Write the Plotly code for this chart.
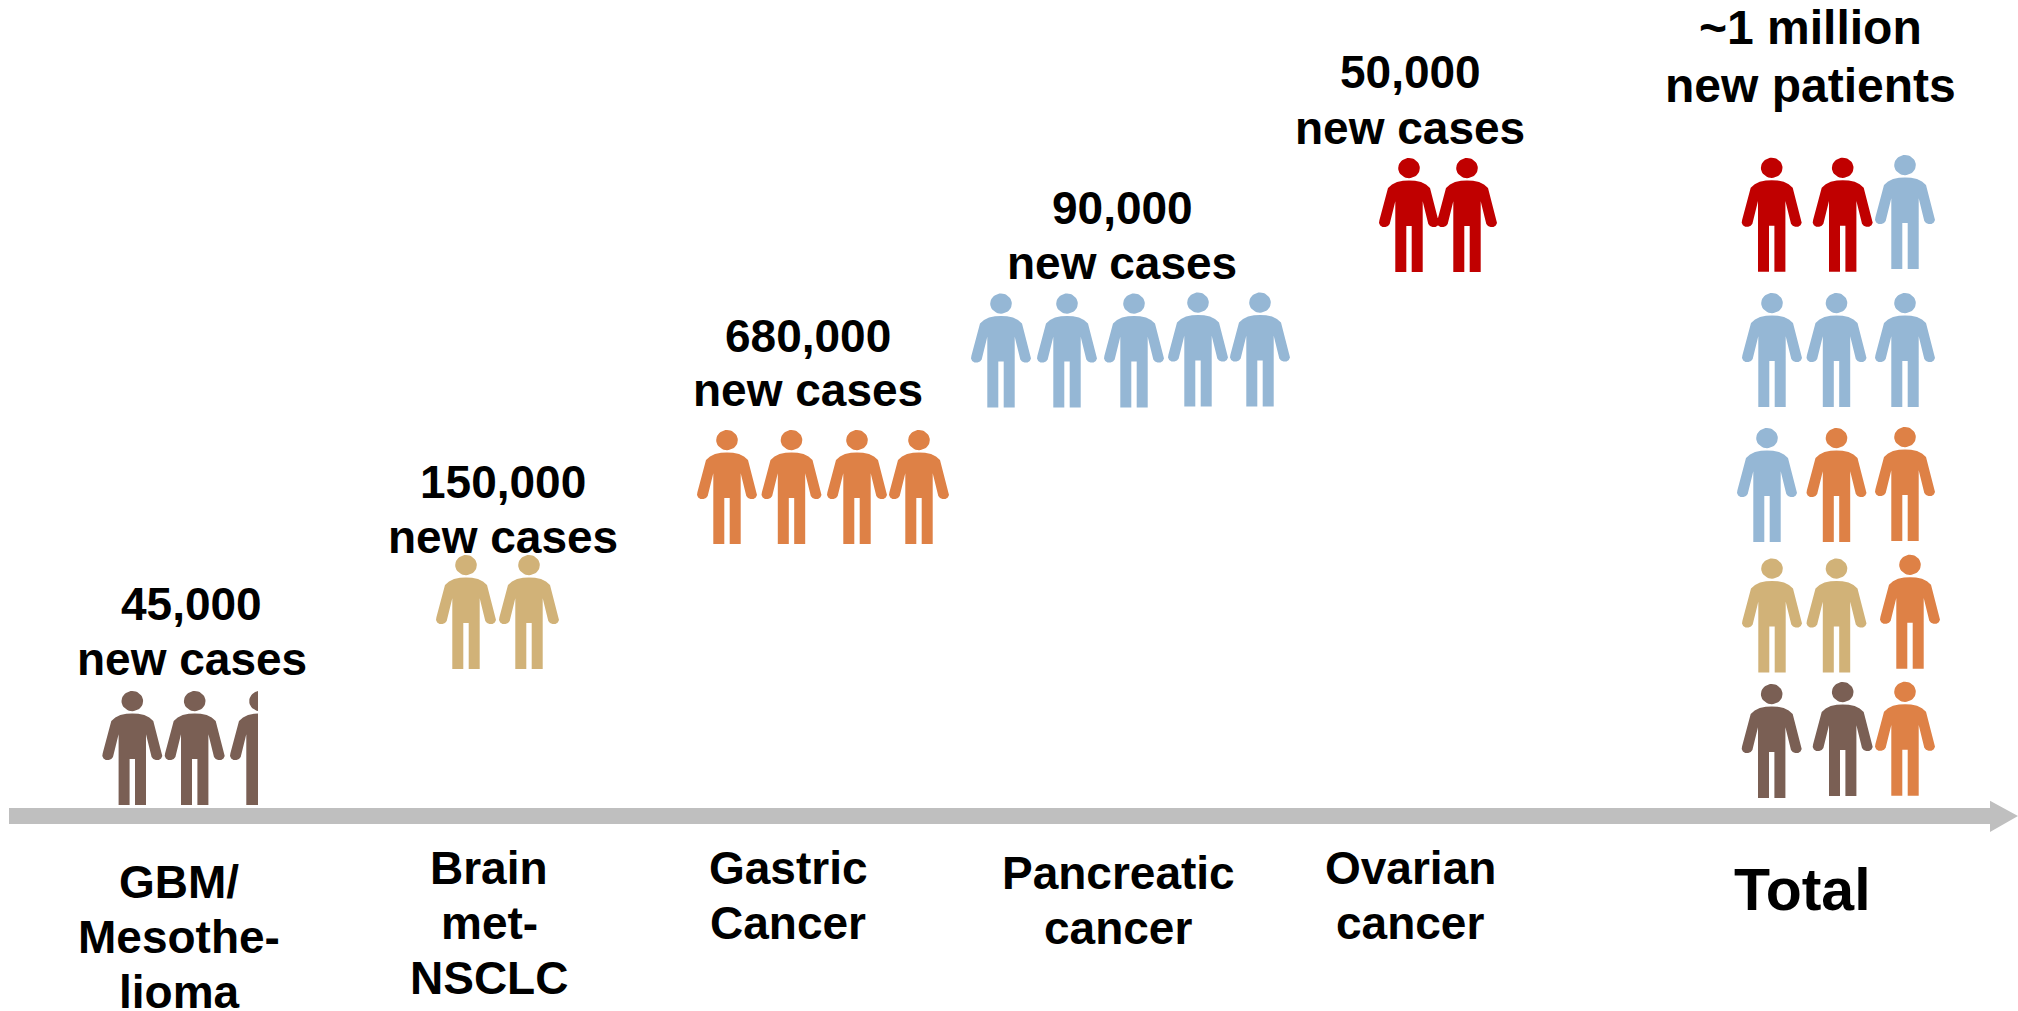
import numpy as np
import plotly.graph_objects as go

# ---------- data ----------
categories = ["GBM/\nMesothe-\nlioma", "Brain\nmet-\nNSCLC", "Gastric\nCancer", "Pancreatic\ncancer", "Ovarian\ncancer"]
new_cases = ["45,000", "150,000", "680,000", "90,000", "50,000"]
icon_counts = [2.5, 2, 4, 5, 2]
total_name = "Total"
total_label = ["~1 million", "new patients"]
case_suffix = "new cases"
# which category each icon of the Total column belongs to (top row first)
total_grid = [
    [4, 4, 3],
    [3, 3, 3],
    [3, 2, 2],
    [1, 1, 2],
    [0, 0, 2],
]

# ---------- styles / placement ----------
colors = ["#7A5F54", "#D1B278", "#DE8146", "#95B7D5", "#C00000"]
AXIS_GRAY = "#BFBFBF"
W, H = 2018, 1011
FONT = "Liberation Sans, Arial, sans-serif"
FS = 46
FS_HEAD = 48
FS_TOTAL = 59

icon_x = [
    [132.3, 194.7, 260.0],
    [466, 529],
    [727, 791.5, 857, 919],
    [1001, 1067, 1134, 1198, 1260],
    [1409, 1467],
]
icon_top = [691, 555, 430, [293.5, 293.5, 293.5, 292.5, 292.5], 158]
total_x = [
    [1771.7, 1842.7, 1905],
    [1772, 1836.5, 1905],
    [1767, 1836.5, 1905],
    [1772, 1836.5, 1910],
    [1771.7, 1842.7, 1905],
]
total_top = [
    [157.7, 157.7, 155],
    [293, 293, 293],
    [428, 428, 427],
    [558.5, 558.5, 554.7],
    [684, 682, 681.7],
]
case_pos = [(191.5, 604, 659), (503, 481.6, 537), (808, 336, 390), (1122, 207.5, 263), (1410, 72, 128)]
cat_pos = [(179, 882), (489, 868), (788, 868), (1118, 873), (1410, 868)]
CAT_STEP = 55

# person glyph: right half outline relative to centre x / head top
half = [(0, 22.6), (6, 22.7), (12, 24), (17, 26.6), (21, 30), (29.6, 62.3), (30, 65), (28.8, 67.5),
        (26.5, 69), (23.5, 69), (21, 68), (19.3, 66), (13.7, 43.3), (13.7, 114), (2.7, 114), (2.7, 68), (0, 68)]
gx = np.array([p[0] for p in half], float)
gy = np.array([p[1] for p in half], float)
body_x = np.concatenate([gx, -gx[::-1]])
body_y = np.concatenate([gy, gy[::-1]])
t = np.linspace(0, 2 * np.pi, 41)
head_x = 10.8 * np.cos(t)
head_y = 10.1 + 10.1 * np.sin(t)


def add_icon(xs, ys, cx, top, frac=1.0):
    limit = cx - 30 + 56 * frac if frac < 1 else cx + 40
    xs.extend(np.minimum(cx + body_x, limit).tolist() + [None])
    ys.extend((top + body_y).tolist() + [None])
    xs.extend(np.minimum(cx + head_x, limit).tolist() + [None])
    ys.extend((top + head_y).tolist() + [None])


buckets = {i: ([], []) for i in range(len(categories))}
for i, count in enumerate(icon_counts):
    tops = icon_top[i] if isinstance(icon_top[i], list) else [icon_top[i]] * len(icon_x[i])
    n = int(np.ceil(count))
    for j in range(n):
        frac = count - j if count - j < 1 else 1.0
        add_icon(*buckets[i], icon_x[i][j], tops[j], frac)
for r, row in enumerate(total_grid):
    for c, cat in enumerate(row):
        add_icon(*buckets[cat], total_x[r][c], total_top[r][c])

fig = go.Figure()
for i, name in enumerate(categories):
    fig.add_trace(go.Scatter(x=buckets[i][0], y=buckets[i][1], mode="lines", fill="toself",
                             fillcolor=colors[i], line=dict(width=0, color=colors[i]),
                             name=name.replace("\n", " "), hoverinfo="name", showlegend=False))

annotations = []


def label(x, y, text, size=FS):
    annotations.append(dict(x=x, y=y, xref="x", yref="y", text=text, showarrow=False,
                            xanchor="center", yanchor="middle",
                            font=dict(family=FONT, size=size, color="#000000")))


for (x, y1, y2), val in zip(case_pos, new_cases):
    label(x, y1, f"<b>{val}</b>")
    label(x, y2, f"<b>{case_suffix}</b>")
label(1810, 27, f"<b>{total_label[0]}</b>", FS_HEAD)
label(1810, 85, f"<b>{total_label[1]}</b>", FS_HEAD)
for (x, y), cat in zip(cat_pos, categories):
    for k, line in enumerate(cat.split("\n")):
        label(x, y + k * CAT_STEP, f"<b>{line}</b>")
label(1802, 890, f"<b>{total_name}</b>", FS_TOTAL)

axis_path = "M 9 808 L 1990 808 L 1990 800.7 L 2018 816 L 1990 832 L 1990 824 L 9 824 Z"

fig.update_layout(
    width=W, height=H, margin=dict(l=0, r=0, t=0, b=0),
    paper_bgcolor="white", plot_bgcolor="white", showlegend=False,
    xaxis=dict(range=[0, W], visible=False, fixedrange=True),
    yaxis=dict(range=[H, 0], visible=False, fixedrange=True),
    annotations=annotations,
    shapes=[dict(type="path", path=axis_path, fillcolor=AXIS_GRAY, line=dict(width=0), layer="below")],
)
fig.write_html("out.html", config={"displayModeBar": False},
               post_script="document.body.style.margin='0';document.documentElement.style.overflow='hidden';")
